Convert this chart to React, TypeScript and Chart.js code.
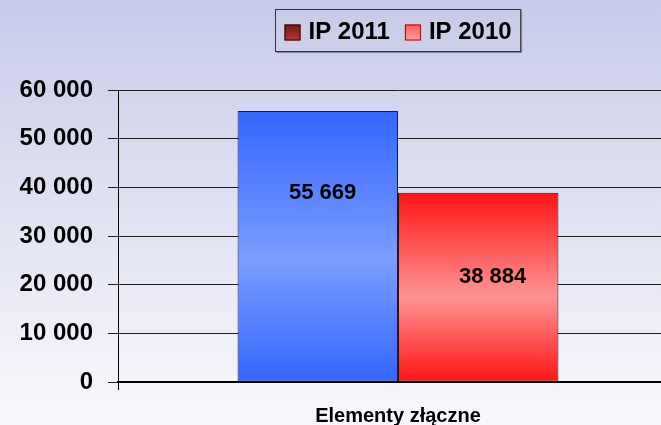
import React, { useEffect, useRef } from 'react';
import { Chart, registerables } from 'chart.js';

Chart.register(...registerables);

const categories = ['Elementy złączne'];
const seriesNames = ['IP 2011', 'IP 2010'];
const ip2011 = [55669];
const ip2010 = [38884];
const yTicks = [0, 10000, 20000, 30000, 40000, 50000, 60000];

const FONT = '"Liberation Sans", Arial, sans-serif';
const fmt = (v: number) => String(Math.round(v)).replace(/\B(?=(\d{3})+(?!\d))/g, ' ');

const barStyles = [
  { edge: '#3366ff', mid: '#7c9cff', border: '#141a40', lx: 0.53, ly: 0.3 },
  { edge: '#ff1414', mid: '#ff9494', border: '#3a0a0a', lx: 0.59, ly: 0.44 },
];
const legendSwatches = [
  { a: '#7a1414', b: '#b03a3a', border: '#2a0505' },
  { a: '#ff5a5a', b: '#ffa0a0', border: '#b00000' },
];

const makeGradient = (i: number) => (ctx: any) => {
  const chart = ctx.chart;
  const s = barStyles[i];
  if (!chart.chartArea || ctx.type !== 'data') return s.mid;
  const y = chart.scales.y;
  const top = y.getPixelForValue(ctx.raw);
  const bottom = y.getPixelForValue(0);
  const g = chart.ctx.createLinearGradient(0, top, 0, bottom);
  g.addColorStop(0, s.edge);
  g.addColorStop(0.55, s.mid);
  g.addColorStop(1, s.edge);
  return g;
};

const valueLabels = {
  id: 'valueLabels',
  afterDatasetsDraw(chart: any) {
    const c = chart.ctx;
    c.save();
    c.font = `bold 22px ${FONT}`;
    c.fillStyle = '#000';
    c.textAlign = 'center';
    c.textBaseline = 'middle';
    chart.data.datasets.forEach((ds: any, di: number) => {
      const meta = chart.getDatasetMeta(di);
      meta.data.forEach((el: any, idx: number) => {
        const p = el.getProps(['x', 'y', 'base', 'width'], true);
        const left = p.x - p.width / 2;
        const st = barStyles[di];
        c.fillText(fmt(ds.data[idx]), left + st.lx * p.width, p.y + st.ly * (p.base - p.y) + 1);
      });
    });
    c.restore();
  },
};

const boxLegend = {
  id: 'boxLegend',
  afterDraw(chart: any) {
    const c = chart.ctx;
    const ca = chart.chartArea;
    c.save();
    c.font = `bold 24px ${FONT}`;
    const sq = 16, gapText = 8, gapItem = 15, pad = 9;
    const names = chart.data.datasets.map((d: any) => d.label);
    const widths = names.map((n: string) => c.measureText(n).width);
    let total = 0;
    names.forEach((_: string, i: number) => {
      total += sq + gapText + widths[i];
      if (i < names.length - 1) total += gapItem;
    });
    const boxW = total + pad * 2;
    const boxH = 42;
    const cx = (ca.left + ca.right) / 2;
    const bx = Math.round(cx - boxW / 2) + 0.5;
    const by = 9.5;
    c.strokeStyle = '#333';
    c.lineWidth = 1;
    c.strokeRect(bx, by, boxW, boxH);
    c.strokeStyle = 'rgba(60,60,60,0.5)';
    c.beginPath();
    c.moveTo(bx + 1, by + boxH + 1);
    c.lineTo(bx + boxW + 1, by + boxH + 1);
    c.lineTo(bx + boxW + 1, by + 1);
    c.stroke();
    let x = bx + pad;
    const midY = by + boxH / 2 + 2;
    names.forEach((n: string, i: number) => {
      const sw = legendSwatches[i];
      const g = c.createLinearGradient(0, midY - sq / 2, 0, midY + sq / 2);
      g.addColorStop(0, sw.a);
      g.addColorStop(1, sw.b);
      c.fillStyle = g;
      c.fillRect(x, midY - sq / 2, sq, sq);
      c.strokeStyle = sw.border;
      c.strokeRect(x + 0.5, midY - sq / 2 + 0.5, sq - 1, sq - 1);
      x += sq + gapText;
      c.fillStyle = '#000';
      c.textAlign = 'left';
      c.textBaseline = 'middle';
      c.fillText(n, x, midY);
      x += widths[i] + gapItem;
    });
    c.restore();
  },
};

export default function App() {
  const ref = useRef<HTMLCanvasElement | null>(null);
  useEffect(() => {
    if (!ref.current) return;
    Chart.defaults.font.family = FONT;
    const chart = new Chart(ref.current, {
      type: 'bar',
      data: {
        labels: categories,
        datasets: [
          {
            label: seriesNames[0],
            data: ip2011,
            backgroundColor: makeGradient(0),
            borderColor: barStyles[0].border,
            borderWidth: 1,
            borderSkipped: false,
          },
          {
            label: seriesNames[1],
            data: ip2010,
            backgroundColor: makeGradient(1),
            borderColor: barStyles[1].border,
            borderWidth: 1,
            borderSkipped: false,
          },
        ],
      },
      options: {
        animation: false,
        responsive: false,
        maintainAspectRatio: false,
        events: [],
        layout: { padding: { top: 90, left: 0, right: 12, bottom: 0 } },
        datasets: { bar: { categoryPercentage: 0.573, barPercentage: 1 } },
        plugins: {
          legend: { display: false },
          tooltip: { enabled: false },
        },
        scales: {
          x: {
            grid: { display: true, drawOnChartArea: false, drawTicks: true, tickLength: 8, color: '#000', offset: true },
            border: { display: true, color: '#000', width: 2 },
            ticks: { color: '#000', font: { size: 20, weight: 'bold', family: FONT }, padding: 14 },
            afterFit: (s: any) => { s.height = 43; },
          },
          y: {
            min: 0,
            max: 60000,
            afterBuildTicks: (s: any) => { s.ticks = yTicks.map((v) => ({ value: v })); },
            grid: { color: '#1e1e1e', lineWidth: 1, drawTicks: true, tickLength: 10 },
            border: { display: true, color: '#000', width: 1 },
            ticks: {
              color: '#000',
              font: { size: 24, weight: 'bold', family: FONT },
              padding: 15,
              callback: (v: any) => fmt(Number(v)),
            },
            afterFit: (s: any) => { s.width = 118; },
          },
        },
      },
      plugins: [valueLabels, boxLegend],
    } as any);
    return () => chart.destroy();
  }, []);
  return (
    <div
      style={{
        position: 'absolute',
        left: 0,
        top: 0,
        width: 661,
        height: 425,
        overflow: 'hidden',
        background: 'linear-gradient(to bottom, #c7cae8 0%, #dcdef0 40%, #f8f8fc 100%)',
      }}
    >
      <canvas ref={ref} width={690} height={425} style={{ display: 'block', width: 690, height: 425 }} />
    </div>
  );
}
